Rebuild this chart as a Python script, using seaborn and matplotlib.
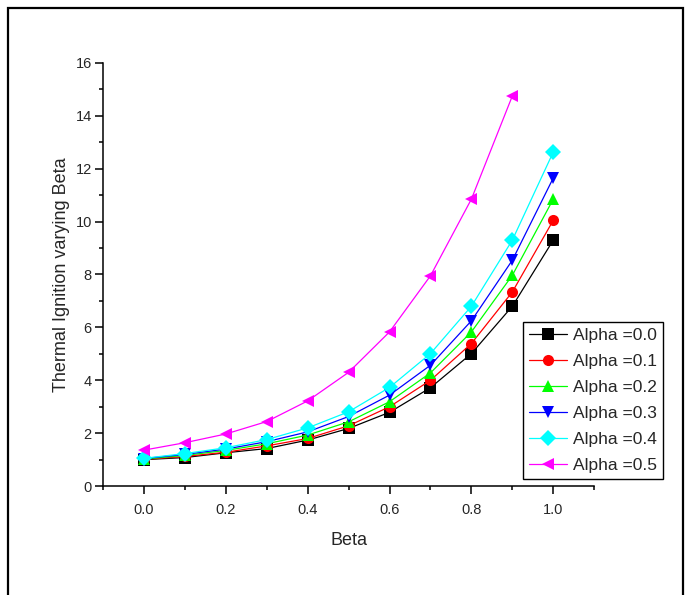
import numpy as np
import pandas as pd
import matplotlib
matplotlib.use("Agg")
import matplotlib.pyplot as plt
import seaborn as sns
from matplotlib.patches import Rectangle
from matplotlib.ticker import MultipleLocator

sns.set_style("ticks")
plt.rcParams['font.family'] = ['Liberation Sans', 'DejaVu Sans']

# data
beta = [0.0, 0.1, 0.2, 0.3, 0.4, 0.5, 0.6, 0.7, 0.8, 0.9, 1.0]
a00 = [1.00, 1.08, 1.26, 1.42, 1.74, 2.18, 2.79, 3.72, 5.01, 6.80, 9.30]
a01 = [1.01, 1.12, 1.28, 1.52, 1.80, 2.28, 3.00, 4.00, 5.39, 7.34, 10.05]
a02 = [1.02, 1.16, 1.35, 1.60, 1.93, 2.43, 3.19, 4.28, 5.83, 7.97, 10.85]
a03 = [1.04, 1.20, 1.40, 1.68, 2.05, 2.63, 3.44, 4.57, 6.25, 8.54, 11.65]
a04 = [1.05, 1.23, 1.45, 1.76, 2.20, 2.81, 3.73, 5.01, 6.80, 9.30, 12.63]
a05 = [1.36, 1.64, 1.97, 2.44, 3.22, 4.30, 5.83, 7.95, 10.85, 14.75]
labels = ["Alpha =0.0", "Alpha =0.1", "Alpha =0.2", "Alpha =0.3", "Alpha =0.4", "Alpha =0.5"]
colors = ["#000000", "#ff0000", "#00ff00", "#0000ff", "#00ffff", "#ff00ff"]
marks = ["s", "o", "^", "v", "D", "<"]

rows = []
for lab, ys in zip(labels, [a00, a01, a02, a03, a04, a05]):
    for b, v in zip(beta, ys):
        rows.append((b, v, lab))
df = pd.DataFrame(rows, columns=["Beta", "val", "Alpha"])

fig = plt.figure(figsize=(6.91, 5.95), dpi=100)
ax = fig.add_axes([0.149, 0.183, 0.711, 0.7115])

sns.lineplot(data=df, x="Beta", y="val", hue="Alpha", style="Alpha",
             palette=dict(zip(labels, colors)), markers=dict(zip(labels, marks)),
             dashes=False, linewidth=0.9, markersize=8, markeredgewidth=0,
             ax=ax, legend=True)

ax.set_xlim(-0.1, 1.1)
ax.set_ylim(0, 16)
ax.xaxis.set_minor_locator(MultipleLocator(0.1))
ax.yaxis.set_major_locator(MultipleLocator(2))
ax.yaxis.set_minor_locator(MultipleLocator(1))
ax.set_xticks([0.0, 0.2, 0.4, 0.6, 0.8, 1.0])
ax.set_xticklabels(["0.0", "0.2", "0.4", "0.6", "0.8", "1.0"])
ax.tick_params(which="major", length=6, width=1.1, labelsize=10.5, color="black")
ax.tick_params(which="minor", length=3, width=1.1, color="black")
ax.tick_params(axis="x", which="major", pad=6)
ax.tick_params(axis="y", which="major", pad=2)
for s in ["top", "right"]:
    ax.spines[s].set_visible(False)
for s in ["left", "bottom"]:
    ax.spines[s].set_linewidth(1.1)
    ax.spines[s].set_color("black")

ax.set_xlabel("Beta", fontsize=13, labelpad=11)
ax.set_ylabel("Thermal Ignition varying Beta", fontsize=13, labelpad=4)

h, l = ax.get_legend_handles_labels()
h = [hh for hh, ll in zip(h, l) if ll in labels]
leg = ax.legend(h, labels, loc="upper left", bbox_to_anchor=(0.757, 0.459),
                bbox_transform=fig.transFigure, borderaxespad=0, fontsize=12.5,
                frameon=True, fancybox=False, edgecolor="black", framealpha=1,
                handlelength=2.2, handletextpad=0.3, labelspacing=0.62,
                borderpad=0.35)
leg.get_frame().set_linewidth(1.0)

fig.patches.append(Rectangle((8 / 691, -0.05), 675 / 691, 1.05 - 8 / 595,
                             transform=fig.transFigure, fill=False,
                             edgecolor="black", linewidth=1.6))

fig.savefig("out.png", dpi=100)
